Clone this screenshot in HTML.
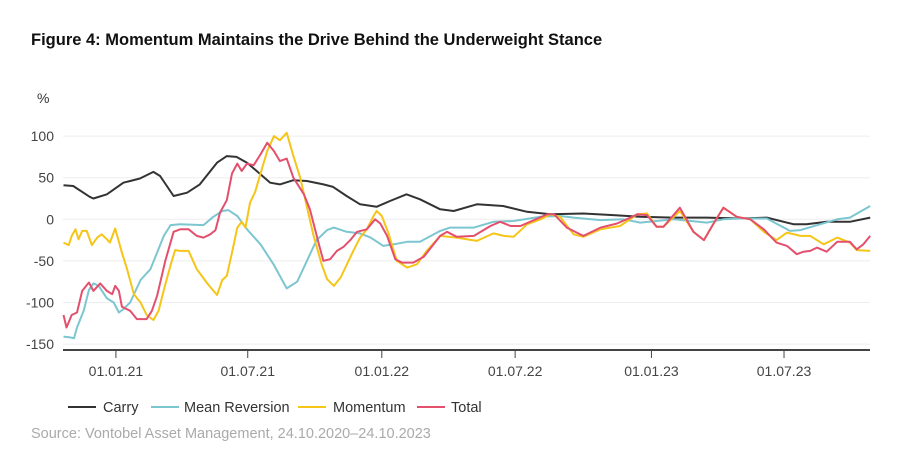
<!DOCTYPE html>
<html><head><meta charset="utf-8"><style>
body{margin:0;background:#fff;font-family:"Liberation Sans",sans-serif}
svg{display:block}
</style></head><body>
<svg width="900" height="450" font-family="Liberation Sans, sans-serif">
<text x="31" y="45" font-size="16.5" font-weight="bold" fill="#111">Figure 4: Momentum Maintains the Drive Behind the Underweight Stance</text>
<text x="37" y="103" font-size="14" fill="#333">%</text>
<g id="grid"></g><g id="series"></g><g id="xaxis"></g>
<g font-size="14.5" fill="#333">
<g><line x1="68" y1="407" x2="96" y2="407" stroke="#333" stroke-width="2"/><text x="103" y="412">Carry</text></g>
<g><line x1="151" y1="407" x2="179" y2="407" stroke="#7cc6d0" stroke-width="2"/><text x="184" y="412">Mean Reversion</text></g>
<g><line x1="298" y1="407" x2="326" y2="407" stroke="#f5c518" stroke-width="2"/><text x="333" y="412">Momentum</text></g>
<g><line x1="417" y1="407" x2="445" y2="407" stroke="#e3506e" stroke-width="2"/><text x="451" y="412">Total</text></g>
</g>
<text x="31" y="438" font-size="14.5" fill="#aaa">Source: Vontobel Asset Management, 24.10.2020–24.10.2023</text>
</svg>
<script>
const yTicks=[100,50,0,-50,-100,-150];
const xTickDays=[88,264,443,621,803,980];
const xTickLabels=["01.01.21","01.07.21","01.01.22","01.07.22","01.01.23","01.07.23"];
const carryDays=[18,31,53,58,76,98,120,138,147,165,183,200,223,236,249,263,276,294,307,325,343,365,378,396,414,436,454,476,494,521,539,570,605,637,668,712,752,788,832,877,921,957,993,1010,1037,1068,1095];
const carryValues=[41,40,27,25,30,44,49,57,52,28,32,42,68,76,75,68,58,44,42,47,46,42,39,28,18,15,22,30,24,12,10,18,16,9,6,7,5,3,2,2,1,2,-6,-6,-3,-3,2];
const meanRevDays=[18,27,32,36,45,52,58,65,76,85,92,98,107,121,134,143,152,161,174,205,218,230,238,250,263,281,299,316,330,343,356,370,379,396,414,428,445,459,477,494,521,534,566,592,619,655,681,699,735,766,788,833,877,899,922,957,988,1002,1028,1051,1068,1095];
const meanRevValues=[-141,-142,-143,-130,-110,-85,-77,-80,-95,-100,-112,-108,-100,-73,-60,-40,-20,-7,-6,-7,3,10,11,4,-12,-30,-55,-83,-75,-50,-25,-13,-10,-15,-17,-22,-32,-30,-27,-27,-14,-10,-10,-3,-2,3,4,2,-1,0,-4,0,-4,0,1,1,-14,-13,-6,0,2,16];
const momentumDays=[18,25,29,34,38,43,49,56,63,69,76,80,87,96,103,112,121,129,138,145,152,161,167,174,185,196,210,223,230,236,243,250,256,261,267,274,281,290,299,307,316,325,334,343,352,363,370,379,388,396,405,414,423,432,436,443,452,463,477,490,503,521,543,570,592,606,619,637,655,668,681,699,712,735,761,784,797,810,819,841,859,873,886,899,917,935,953,970,984,1002,1015,1033,1051,1068,1077,1095];
const momentumValues=[-28,-31,-20,-12,-24,-14,-14,-31,-22,-18,-24,-28,-11,-40,-60,-90,-100,-115,-121,-110,-85,-55,-37,-38,-38,-60,-77,-91,-73,-68,-40,-10,-3,-10,20,33,55,82,100,95,104,76,50,15,-20,-55,-72,-80,-70,-55,-38,-22,-12,4,10,4,-17,-50,-58,-54,-38,-20,-22,-26,-17,-20,-21,-6,0,6,3,-18,-21,-12,-8,6,7,-9,-9,10,-15,-25,-5,14,3,0,-15,-25,-16,-20,-20,-30,-22,-28,-37,-38];
const totalDays=[18,22,29,36,43,52,58,67,76,83,87,92,96,107,116,129,136,143,154,165,174,185,196,205,214,221,227,236,243,250,256,263,272,281,290,299,307,316,325,339,347,359,365,374,383,392,401,410,423,434,441,450,461,470,485,499,521,530,543,566,588,601,615,628,664,673,690,712,735,757,775,784,797,810,819,841,859,873,886,899,917,935,953,970,984,997,1006,1015,1024,1037,1051,1068,1077,1086,1095];
const totalValues=[-115,-130,-115,-112,-86,-76,-86,-77,-86,-90,-80,-86,-105,-110,-120,-120,-110,-92,-50,-15,-12,-12,-20,-22,-18,-13,8,23,55,67,58,67,65,78,92,82,70,73,50,30,12,-30,-50,-48,-38,-33,-25,-15,-12,0,-5,-20,-48,-52,-52,-45,-20,-15,-21,-20,-8,-3,-8,-8,6,6,-10,-20,-10,-5,2,6,5,-9,-9,14,-15,-25,-5,14,3,0,-12,-28,-32,-42,-39,-38,-34,-39,-27,-27,-36,-30,-20];
const NS="http://www.w3.org/2000/svg";
const X0=50,PXDAY=0.749;
function xs(d){return X0+d*PXDAY;}
function ys(v){return 219.3-0.832*v;}
const grid=document.getElementById('grid');
yTicks.forEach(t=>{
 const l=document.createElementNS(NS,'line');
 
 
 l.setAttribute('x1',63);l.setAttribute('x2',870);l.setAttribute('y1',ys(t));l.setAttribute('y2',ys(t));
 l.setAttribute('stroke','#eee');l.setAttribute('stroke-width','1');grid.appendChild(l);
 const tx=document.createElementNS(NS,'text');
 
 
 tx.setAttribute('x',54);tx.setAttribute('y',ys(t)+5);tx.setAttribute('text-anchor','end');
 tx.setAttribute('font-size','14');tx.setAttribute('fill','#444');tx.textContent=t;grid.appendChild(tx);
});
const xa=document.getElementById('xaxis');
const ax=document.createElementNS(NS,'line');


ax.setAttribute('x1',63);ax.setAttribute('x2',870);ax.setAttribute('y1',350);ax.setAttribute('y2',350);
ax.setAttribute('stroke','#444');ax.setAttribute('stroke-width','2');xa.appendChild(ax);
xTickDays.forEach((d,i)=>{
 const l=document.createElementNS(NS,'line');
 
 
 l.setAttribute('x1',xs(d));l.setAttribute('x2',xs(d));l.setAttribute('y1',350);l.setAttribute('y2',358);
 l.setAttribute('stroke','#444');l.setAttribute('stroke-width','1');xa.appendChild(l);
 const tx=document.createElementNS(NS,'text');
 
 
 tx.setAttribute('x',xs(d));tx.setAttribute('y',376);tx.setAttribute('text-anchor','middle');
 tx.setAttribute('font-size','14');tx.setAttribute('fill','#444');tx.textContent=xTickLabels[i];xa.appendChild(tx);
});
const sg=document.getElementById('series');
function draw(days,vals,color,name){
 const p=document.createElementNS(NS,'path');
 
 
 p.setAttribute('d',days.map((d,i)=>(i?'L':'M')+xs(d).toFixed(1)+','+ys(vals[i]).toFixed(1)).join(''));
 p.setAttribute('fill','none');p.setAttribute('stroke',color);p.setAttribute('stroke-width','2');
 p.setAttribute('stroke-linejoin','round');sg.appendChild(p);
}
draw(carryDays,carryValues,'#333','carry-line');
draw(meanRevDays,meanRevValues,'#7cc6d0','mean-reversion-line');
draw(momentumDays,momentumValues,'#f5c518','momentum-line');
draw(totalDays,totalValues,'#e3506e','total-line');
</script>
</body></html>
